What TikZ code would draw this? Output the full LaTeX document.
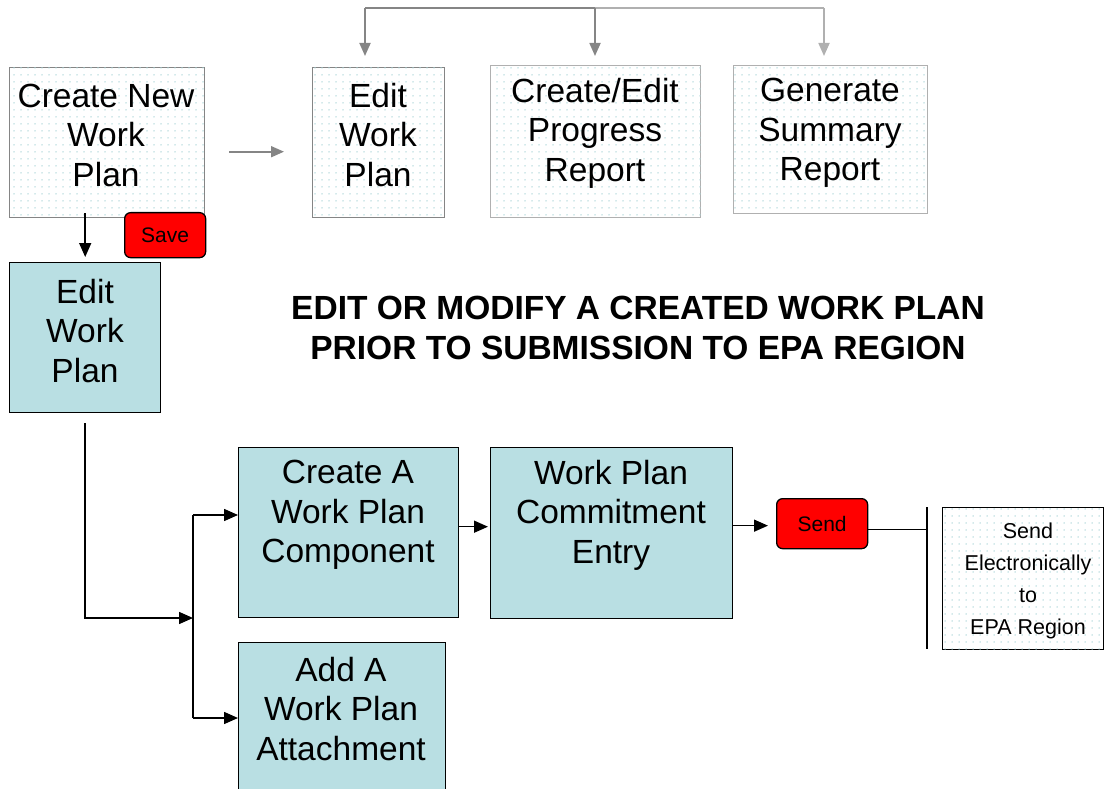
\documentclass[tikz,border=0pt]{standalone}
\usepackage{fontspec}
\setmainfont{Liberation Sans}
\usetikzlibrary{arrows.meta,patterns.meta}
\definecolor{tealfill}{HTML}{B9DFE3}
\definecolor{dotc}{HTML}{A8D4D8}
\definecolor{gdark}{HTML}{858585}
\definecolor{glight}{HTML}{B0B0B0}
\begin{document}
\begin{tikzpicture}[x=1pt,y=-1pt,
  dotbox/.style={draw=gdark, line width=1.4pt, fill=white,
    postaction={pattern={Dots[distance=7pt,radius=0.75pt]}, pattern color=dotc},
    anchor=north west, inner sep=0pt},
  dotboxl/.style={dotbox, draw=glight, line width=1pt},
  tealbox/.style={draw=black, line width=1.4pt, fill=tealfill, anchor=north west, inner sep=0pt},
  redbtn/.style={draw=black, line width=1.3pt, fill=red, rounded corners=6pt, anchor=north west, inner sep=0pt,
    font=\fontsize{21}{24}\selectfont},
  big/.style={font=\fontsize{33.5}{39.5}\selectfont, align=center, inner sep=0pt},
  small/.style={font=\fontsize{21.5}{32}\selectfont, align=center, inner sep=0pt},
  title/.style={font=\bfseries\fontsize{33.5}{40}\selectfont, align=center, inner sep=0pt},
  garr/.style={draw=gdark, line width=1.8pt, -{Triangle[length=13pt,width=11pt]}},
  garrl/.style={draw=glight, line width=1.8pt, -{Triangle[length=13pt,width=11pt]}},
  barr/.style={draw=black, line width=1.5pt, -{Triangle[length=14pt,width=12pt]}},
  bline/.style={draw=black, line width=1.5pt}]
\useasboundingbox (0,0) rectangle (1104,789);

% top row boxes
\node[dotbox, minimum width=195pt, minimum height=150pt] (cn) at (9,67) {};
\node[big] (cnT) at (106,135) {Create New\\Work\\Plan};
\node[dotbox, minimum width=132pt, minimum height=150pt] (ew) at (312,67) {};
\node[big] (ewT) at (378,135) {Edit\\Work\\Plan};
\node[dotboxl, minimum width=210pt, minimum height=152pt] (ce) at (490,65) {};
\node[big] (ceT) at (595,133) {Create/Edit\\Progress\\Report};
\node[dotboxl, minimum width=194pt, minimum height=148pt] (gs) at (733,65) {};
\node[big] (gsT) at (830,133) {Generate\\Summary\\Report};

% top connectors
\coordinate (tl) at (365,8);
\coordinate (tm) at (595,8);
\coordinate (tr) at (824,8);
\draw[draw=gdark, line width=1.8pt] (tl) -- (tm);
\draw[draw=glight, line width=1.8pt] (tm) -- (tr);
\draw[garr, shorten >=11pt] (tl) -- (tl |- ew.north);
\draw[garr, shorten >=9pt] (tm) -- (tm |- ce.north);
\draw[garrl, shorten >=9pt] (tr) -- (tr |- gs.north);
\draw[garr, shorten <=24pt, shorten >=28pt] ([yshift=-9pt]cn.east) -- ([yshift=-9pt]cn.east -| ew.west);

% edit work plan (teal) and save
\node[tealbox, minimum width=151pt, minimum height=150pt] (ed) at (9,262) {};
\node[big] (edT) at (85,331) {Edit\\Work\\Plan};
\draw[barr, shorten >=5pt] ([yshift=5pt]ed.north |- cn.south) -- (ed.north);
\node[redbtn, minimum width=81pt, minimum height=45pt] (save) at (124,212) {Save};

% title
\node[title] (ttl) at (638,328) {EDIT OR MODIFY A CREATED WORK PLAN\\PRIOR TO SUBMISSION TO EPA REGION};

% lower boxes
\node[tealbox, minimum width=220pt, minimum height=170pt] (ca) at (238,447) {};
\node[big] (caT) at (348,515) {Create A\\Work Plan\\Component};
\node[tealbox, minimum width=242pt, minimum height=171pt] (wc) at (490,447) {};
\node[big] (wcT) at (611,515) {Work Plan\\Commitment\\Entry};
\node[tealbox, minimum width=207pt, minimum height=160pt] (aa) at (238,642) {};
\node[big] (aaT) at (341,709) {Add A\\Work Plan\\Attachment};
\node[redbtn, minimum width=91pt, minimum height=50pt] (send) at (776,498) {Send};
\node[dotbox, draw=black, line width=1.2pt, minimum width=161pt, minimum height=142pt] (se) at (942,507) {};
\node[small] (seT) at (1028,581) {Send\\Electronically\\to\\EPA Region};

% lower connectors
\coordinate (j1) at (193,618);
\coordinate (j2) at (193,515);
\coordinate (j3) at (193,718);
\draw[barr, shorten <=10pt] (ed.south) |- (j1);
\draw[bline] (j2) -- (j3);
\draw[barr] (j2) -- (j2 -| ca.west);
\draw[barr] (j3) -- (j3 -| aa.west);
\draw[barr, shorten >=2pt] ([yshift=6pt]ca.east) -- ([yshift=6pt]ca.east -| wc.west);
\draw[barr, shorten >=8pt] ([yshift=-2pt]wc.east |- send.west) -- ([yshift=-2pt]send.west);
\coordinate (bt) at (927,507);
\coordinate (bb) at (927,649);
\draw[bline] (bt) -- (bb);
\draw[bline] ([yshift=-6pt]send.east) -- ([yshift=-6pt]send.east -| bt);
\end{tikzpicture}
\end{document}
